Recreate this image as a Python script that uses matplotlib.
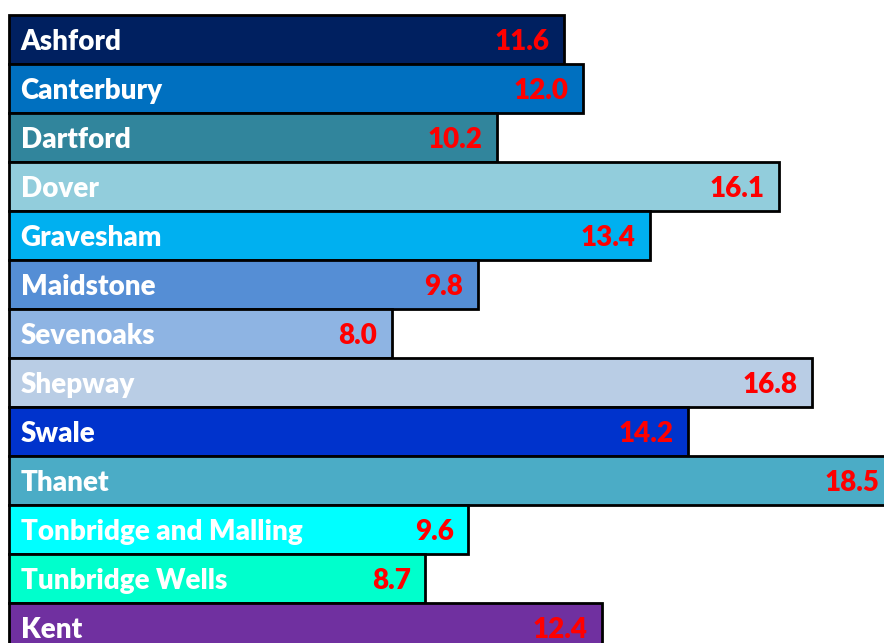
import matplotlib.pyplot as plt

districts = ["Ashford", "Canterbury", "Dartford", "Dover", "Gravesham", "Maidstone",
             "Sevenoaks", "Shepway", "Swale", "Thanet", "Tonbridge and Malling",
             "Tunbridge Wells", "Kent"]
values = [11.6, 12.0, 10.2, 16.1, 13.4, 9.8, 8.0, 16.8, 14.2, 18.5, 9.6, 8.7, 12.4]
colors = ["#002060", "#0070C0", "#31859C", "#92CDDC", "#00B0F0", "#558ED5",
          "#8EB4E3", "#B9CDE5", "#0033CC", "#4BACC6", "#00FFFF", "#00FFCC", "#7030A0"]

plt.rcParams['font.family'] = ['Lato', 'DejaVu Sans']

fig = plt.figure(figsize=(8.84, 6.43), dpi=100)
ax = fig.add_axes([0, 0, 1, 1])

pos = list(range(len(districts)))
ax.barh(pos, values, height=1.0, color=colors, edgecolor="black", linewidth=2)

for i, (name, v) in enumerate(zip(districts, values)):
    ax.text(0.24, i + 0.06, name, color="white", fontsize=20, fontweight="heavy",
            ha="left", va="center")
    ax.text(v - 0.3, i + 0.06, f"{v:.1f}", color="red", fontsize=20, fontweight="heavy",
            ha="right", va="center")

ax.set_xlim(-0.19, 18.30)
ax.set_ylim(12.316, -0.806)
ax.axis("off")

fig.savefig("out.png", dpi=100)
